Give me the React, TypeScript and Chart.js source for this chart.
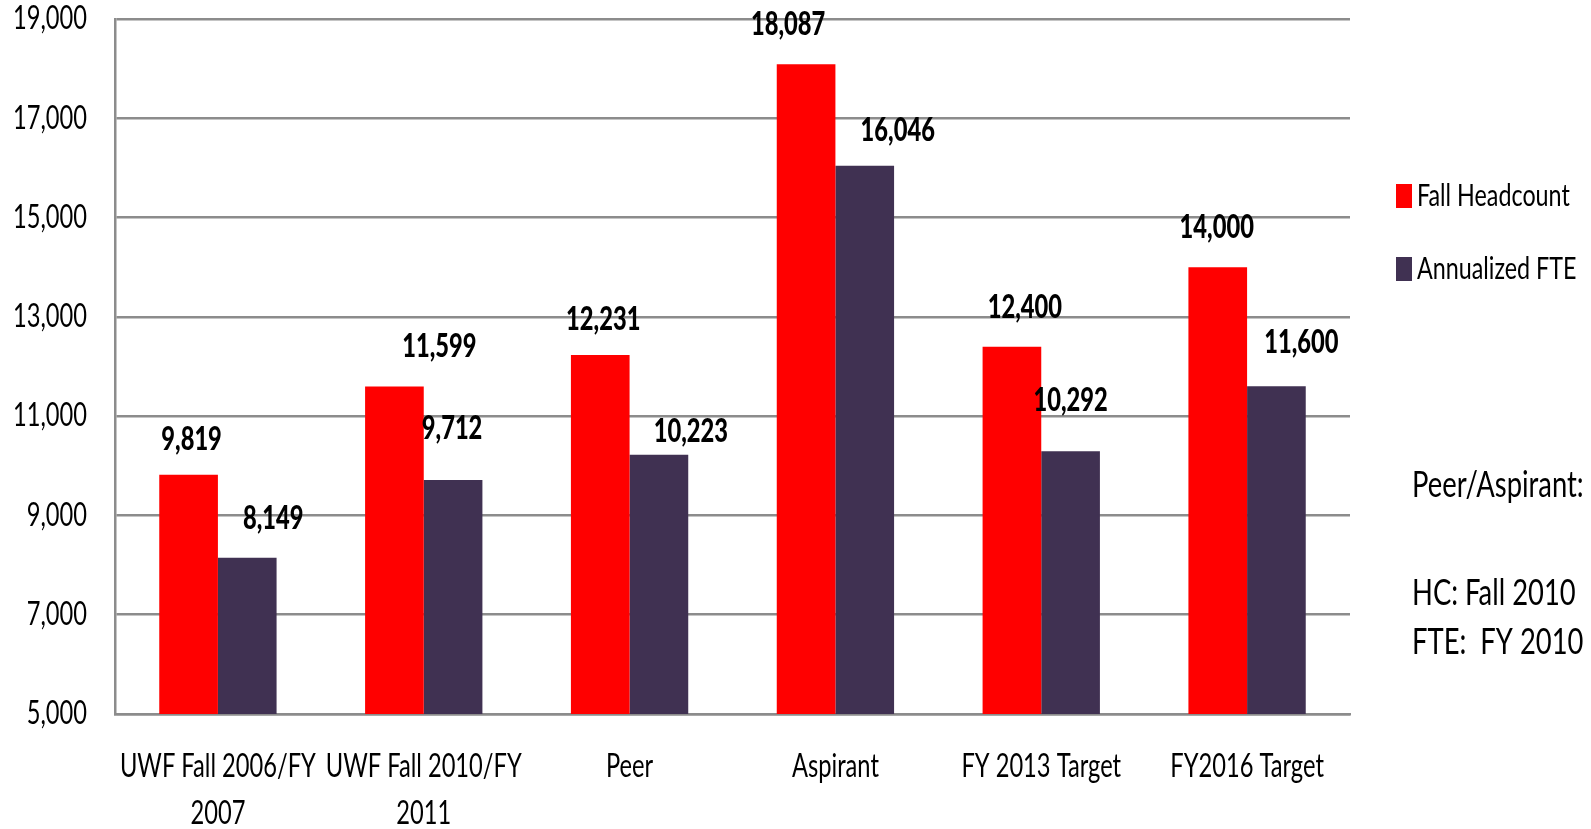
import React, { useEffect, useRef } from 'react';
import { Chart, registerables } from 'chart.js';

Chart.register(...registerables);

const categories: string[][] = [
  ['UWF Fall 2006/FY', '2007'],
  ['UWF Fall 2010/FY', '2011'],
  ['Peer'],
  ['Aspirant'],
  ['FY 2013 Target'],
  ['FY2016 Target'],
];
const fallHeadcount = [9819, 11599, 12231, 18087, 12400, 14000];
const annualizedFTE = [8149, 9712, 10223, 16046, 10292, 11600];
const seriesNames = ['Fall Headcount', 'Annualized FTE'];
const seriesColors = ['#FF0000', '#403152'];
const yMin = 5000;
const yMax = 19000;
const yStep = 2000;
const noteLines = ['Peer/Aspirant:', 'HC: Fall 2010', 'FTE:  FY 2010'];

// label nudges (px) relative to the bar top centre
const labelNudgeX = [
  [3, 45, 3, -18, 13, -1],
  [26, -1, 32, 33, 0, 25],
];
const labelRise = [
  [35, 40, 35, 40, 39, 40],
  [39, 51, 23, 35, 51, 44],
];

const FONT = "Lato, 'Open Sans', sans-serif";
const SQUEEZE = 0.74; // the reference's text is tall and narrow (Calibri, stretched)
const fmt = (v: number) => v.toLocaleString('en-US');

const overlayPlugin = {
  id: 'overlay',
  afterDraw(chart: any) {
    const ctx = chart.ctx as CanvasRenderingContext2D;
    ctx.save();
    // data labels
    ctx.font = `900 32px ${FONT}`;
    ctx.fillStyle = '#000';
    ctx.textAlign = 'center';
    ctx.textBaseline = 'middle';
    chart.data.datasets.forEach((ds: any, di: number) => {
      const meta = chart.getDatasetMeta(di);
      meta.data.forEach((bar: any, i: number) => {
        ctx.fillText(fmt(ds.data[i]), bar.x + labelNudgeX[di][i], bar.y - labelRise[di][i]);
      });
    });
    // legend
    const area = chart.chartArea;
    const lx = area.right + 46;
    const legendY = [196, 269];
    ctx.font = `31.5px ${FONT}`;
    ctx.textAlign = 'left';
    seriesNames.forEach((name, i) => {
      ctx.fillStyle = seriesColors[i];
      ctx.fillRect(lx, legendY[i] - 12, 16, 24);
      ctx.fillStyle = '#000';
      ctx.fillText(name, lx + 21, legendY[i]);
    });
    // note
    ctx.font = `37px ${FONT}`;
    const noteY = [485, 593, 642];
    noteLines.forEach((t, i) => ctx.fillText(t, area.right + 62, noteY[i]));
    ctx.restore();
  },
};

export default function App() {
  const ref = useRef<HTMLCanvasElement>(null);
  useEffect(() => {
    document.body.style.margin = '0';
    const canvas = ref.current!;
    const ctx = canvas.getContext('2d')! as any;
    const protoFill = CanvasRenderingContext2D.prototype.fillText;
    ctx.fillText = function (text: string, x: number, y: number, maxWidth?: number) {
      const w = this.measureText(text).width * SQUEEZE;
      const mw = maxWidth === undefined ? w : Math.min(maxWidth, w);
      if (mw <= 0) return;
      protoFill.call(this, text, x, y, mw);
    };
    const chart = new Chart(ctx, {
      type: 'bar',
      data: {
        labels: categories,
        datasets: [
          { label: seriesNames[0], data: fallHeadcount, backgroundColor: seriesColors[0], categoryPercentage: 0.57, barPercentage: 1 },
          { label: seriesNames[1], data: annualizedFTE, backgroundColor: seriesColors[1], categoryPercentage: 0.57, barPercentage: 1 },
        ],
      },
      options: {
        responsive: false,
        animation: false,
        layout: { padding: { top: 19, right: 241, left: 0, bottom: 0 } },
        plugins: { legend: { display: false }, tooltip: { enabled: false } },
        scales: {
          x: {
            grid: { display: false, drawTicks: false },
            border: { display: true, color: '#8c8c8c', width: 2.5 },
            ticks: {
              color: '#000',
              font: { family: FONT, size: 32, lineHeight: 1.47 },
              padding: 29,
              maxRotation: 0,
              autoSkip: false,
            },
            afterFit: (s: any) => { s.height = 115; },
          },
          y: {
            min: yMin,
            max: yMax,
            grid: { color: '#8c8c8c', lineWidth: 2.5, drawTicks: false },
            border: { display: true, color: '#8c8c8c', width: 2.5 },
            ticks: {
              stepSize: yStep,
              color: '#000',
              font: { family: FONT, size: 32 },
              padding: 28,
              callback: (v: any) => fmt(Number(v)),
            },
            afterFit: (s: any) => { s.width = 115; s.paddingTop = 0; s.paddingBottom = 0; },
          },
        },
      },
      plugins: [overlayPlugin],
    });
    return () => chart.destroy();
  }, []);
  return (
    <div style={{ position: 'fixed', left: 0, top: 0, width: 1591, height: 829, background: '#fff' }}>
      <canvas ref={ref} width={1591} height={829} />
    </div>
  );
}
